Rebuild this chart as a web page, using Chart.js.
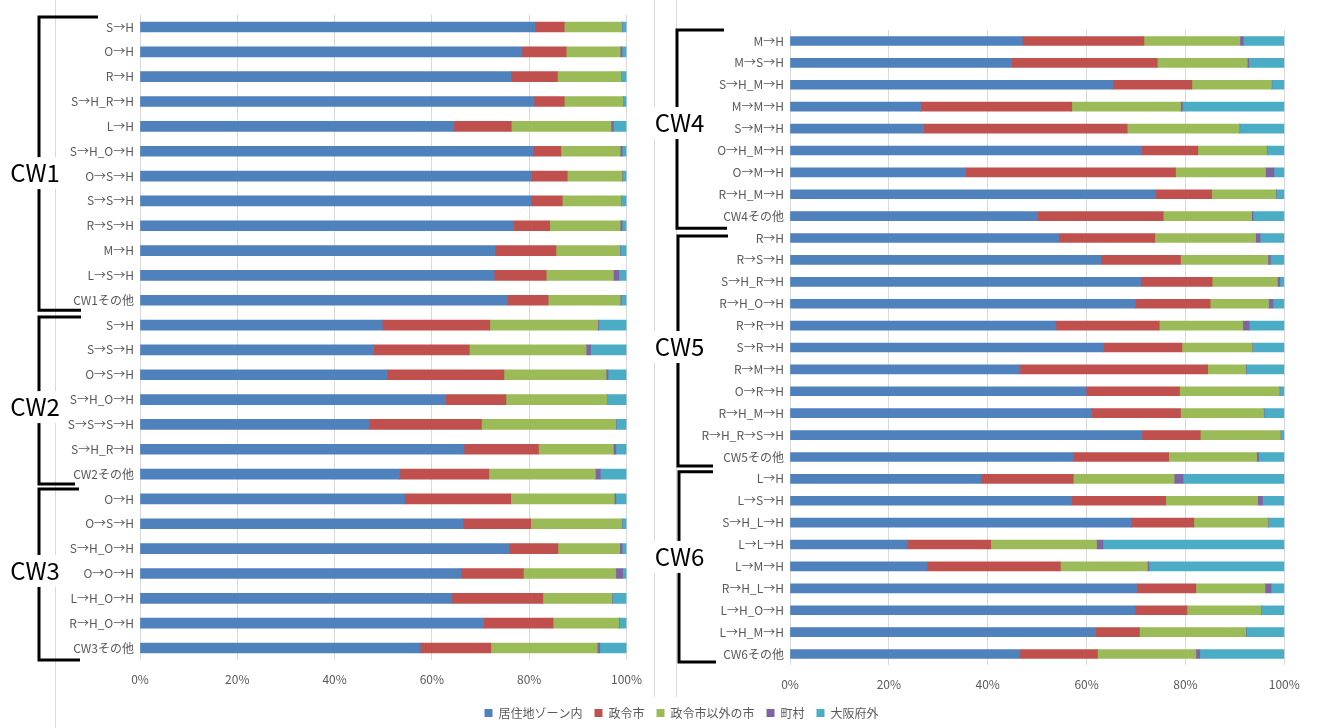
<!DOCTYPE html>
<html>
<head>
<meta charset="utf-8">
<script src="https://cdn.jsdelivr.net/npm/chart.js@4.4.1/dist/chart.umd.min.js"></script>
<style>
  body { margin: 0; background: #fff; width: 1318px; height: 728px; position: relative; overflow: hidden; }
  canvas { position: absolute; }
  #left { left: 0; top: 0; }
  #right { left: 650px; top: 0; }
  #legend { left: 45px; top: 695px; }
</style>
</head>
<body>
<canvas id="left" width="660" height="728"></canvas>
<canvas id="right" width="668" height="728"></canvas>
<canvas id="legend" width="1273" height="60"></canvas>
<script>
// series
const seriesNames = ["居住地ゾーン内", "政令市", "政令市以外の市", "町村", "大阪府外"];
const seriesColors = ["#4F81BD", "#C0504D", "#9BBB59", "#8064A2", "#4BACC6"];
const percentTicks = [0, 20, 40, 60, 80, 100];

// left panel (CW1-CW3)
const leftGroups = ["CW1", "CW2", "CW3"];
const leftGroupSizes = [12, 7, 7];
const leftLabels = [
  "S→H", "O→H", "R→H", "S→H_R→H", "L→H", "S→H_O→H", "O→S→H", "S→S→H", "R→S→H", "M→H", "L→S→H", "CW1その他",
  "S→H", "S→S→H", "O→S→H", "S→H_O→H", "S→S→S→H", "S→H_R→H", "CW2その他",
  "O→H", "O→S→H", "S→H_O→H", "O→O→H", "L→H_O→H", "R→H_O→H", "CW3その他"
];
const leftZone   = [81.2, 78.5, 76.3, 81.0, 64.5, 80.8, 80.4, 80.4, 76.8, 73.0, 72.8, 75.5, 49.8, 48.0, 50.8, 62.8, 47.1, 66.6, 53.4, 54.4, 66.4, 75.8, 66.0, 64.1, 70.6, 57.6];
const leftSeirei = [6.0, 9.1, 9.5, 6.2, 11.8, 5.7, 7.4, 6.4, 7.4, 12.5, 10.7, 8.4, 22.1, 19.7, 24.0, 12.4, 23.1, 15.3, 18.3, 21.8, 13.9, 10.1, 12.8, 18.7, 14.3, 14.5];
const leftCity   = [11.8, 11.1, 13.1, 12.1, 20.5, 12.2, 11.3, 12.1, 14.5, 13.1, 13.8, 14.8, 22.2, 24.0, 21.0, 20.8, 27.6, 15.4, 21.9, 21.3, 18.7, 12.7, 19.0, 14.2, 13.5, 21.9];
const leftTown   = [0.1, 0.4, 0.1, 0.1, 0.5, 0.4, 0.1, 0.1, 0.4, 0.1, 1.1, 0.2, 0.2, 0.9, 0.4, 0.1, 0.1, 0.5, 1.0, 0.3, 0.1, 0.5, 1.4, 0.1, 0.1, 0.5];
const leftOut    = [0.9, 0.9, 1.0, 0.6, 2.7, 0.9, 0.8, 1.0, 0.9, 1.3, 1.6, 1.1, 5.7, 7.4, 3.8, 3.9, 2.1, 2.2, 5.4, 2.2, 0.9, 0.9, 0.8, 2.9, 1.5, 5.5];

// right panel (CW4-CW6)
const rightGroups = ["CW4", "CW5", "CW6"];
const rightGroupSizes = [9, 11, 9];
const rightLabels = [
  "M→H", "M→S→H", "S→H_M→H", "M→M→H", "S→M→H", "O→H_M→H", "O→M→H", "R→H_M→H", "CW4その他",
  "R→H", "R→S→H", "S→H_R→H", "R→H_O→H", "R→R→H", "S→R→H", "R→M→H", "O→R→H", "R→H_M→H", "R→H_R→S→H", "CW5その他",
  "L→H", "L→S→H", "S→H_L→H", "L→L→H", "L→M→H", "R→H_L→H", "L→H_O→H", "L→H_M→H", "CW6その他"
];
const rightZone   = [47.0, 44.8, 65.3, 26.4, 27.0, 71.1, 35.5, 73.9, 50.1, 54.4, 62.9, 71.0, 69.8, 53.8, 63.4, 46.5, 59.9, 61.0, 71.2, 57.3, 38.6, 57.0, 69.0, 23.7, 27.7, 70.1, 69.8, 61.8, 46.5];
const rightSeirei = [24.6, 29.5, 16.0, 30.6, 41.2, 11.4, 42.5, 11.4, 25.4, 19.4, 16.1, 14.4, 15.2, 20.9, 15.9, 38.0, 18.9, 18.0, 11.8, 19.3, 18.7, 19.0, 12.7, 16.9, 27.0, 12.0, 10.5, 8.9, 15.7];
const rightCity   = [19.4, 18.2, 16.1, 22.0, 22.7, 13.9, 18.2, 13.0, 17.9, 20.4, 17.7, 13.2, 11.8, 16.9, 14.2, 7.7, 20.2, 16.8, 16.2, 17.8, 20.4, 18.6, 15.0, 21.4, 17.6, 14.0, 15.0, 21.5, 19.9];
const rightTown   = [0.7, 0.3, 0.1, 0.4, 0.1, 0.1, 1.7, 0.1, 0.3, 0.9, 0.5, 0.5, 0.9, 1.3, 0.1, 0.1, 0.1, 0.1, 0.1, 0.4, 1.8, 1.0, 0.1, 1.3, 0.3, 1.2, 0.1, 0.1, 0.8];
const rightOut    = [8.3, 7.2, 2.5, 20.6, 9.0, 3.5, 2.1, 1.6, 6.3, 4.9, 2.8, 0.9, 2.3, 7.1, 6.4, 7.7, 0.9, 4.1, 0.7, 5.2, 20.5, 4.4, 3.2, 36.7, 27.4, 2.7, 4.6, 7.7, 17.1];

Chart.defaults.font.family = '"Noto Sans CJK JP", "Noto Sans", sans-serif';
Chart.defaults.font.size = 12;
Chart.defaults.color = "#595959";

// brackets + group names drawn beside the category axis
const bracketPlugin = {
  id: "brackets",
  afterDraw(chart, args, opts) {
    const ctx = chart.ctx;
    const yScale = chart.scales.y;
    ctx.save();
    ctx.strokeStyle = "#d9d9d9";
    ctx.lineWidth = 1;
    opts.frames.forEach(f => {
      ctx.beginPath();
      ctx.moveTo(f.x, f.y0);
      ctx.lineTo(f.x, f.y1);
      ctx.stroke();
    });
    let first = 0;
    opts.names.forEach((name, i) => {
      const last = first + opts.sizes[i] - 1;
      const s = opts.shapes[i];
      const top = yScale.getPixelForValue(first) + s.top;
      const bottom = yScale.getPixelForValue(last) + s.bottom;
      ctx.strokeStyle = "#000";
      ctx.lineWidth = 3;
      ctx.beginPath();
      ctx.moveTo(s.x + s.topLen, top);
      ctx.lineTo(s.x, top);
      ctx.lineTo(s.x, bottom);
      ctx.lineTo(s.x + s.bottomLen, bottom);
      ctx.stroke();

      const ly = (top + bottom) / 2 + s.labelDy;
      ctx.font = '24px "Noto Sans CJK JP", "Noto Sans", sans-serif';
      const w = ctx.measureText(name).width;
      ctx.fillStyle = "#fff";
      ctx.fillRect(s.labelX - w / 2 - 2, ly - 16, w + 4, 32);
      ctx.fillStyle = "#000";
      ctx.textAlign = "center";
      ctx.textBaseline = "middle";
      ctx.fillText(name, s.labelX, ly);
      first = last + 1;
    });
    ctx.restore();
  }
};

function makeDatasets(values, thickness) {
  return values.map((v, i) => ({
    label: seriesNames[i],
    data: v,
    backgroundColor: seriesColors[i],
    borderWidth: 0,
    barThickness: thickness
  }));
}

function makePanel(canvasId, labels, values, thickness, padding, brackets) {
  return new Chart(document.getElementById(canvasId), {
    type: "bar",
    data: { labels: labels, datasets: makeDatasets(values, thickness) },
    plugins: [bracketPlugin],
    options: {
      indexAxis: "y",
      responsive: false,
      animation: false,
      devicePixelRatio: 1,
      layout: { padding: padding },
      scales: {
        x: {
          stacked: true,
          min: 0,
          max: 100,
          afterBuildTicks: scale => { scale.ticks = percentTicks.map(v => ({ value: v })); },
          afterFit: scale => { scale.height = 30; },
          grid: { color: "#d9d9d9", drawTicks: false },
          border: { display: false },
          ticks: { padding: 12, callback: v => v + "%" }
        },
        y: {
          stacked: true,
          afterFit: scale => { scale.width = 140; },
          grid: { display: false, drawTicks: false },
          border: { display: false },
          ticks: { padding: 6, autoSkip: false }
        }
      },
      plugins: {
        legend: { display: false },
        tooltip: { enabled: false },
        brackets: brackets
      }
    }
  });
}

makePanel("left", leftLabels, [leftZone, leftSeirei, leftCity, leftTown, leftOut], 10,
  { left: 0, right: 33.5, top: 14.6, bottom: 37.6 },
  {
    names: leftGroups,
    sizes: leftGroupSizes,
    frames: [{ x: 55.5, y0: 0, y1: 728 }],
    shapes: [
      { x: 39, top: -10, bottom: 10, topLen: 59, bottomLen: 42, labelX: 35, labelDy: 9.5 },
      { x: 39, top: -8, bottom: 10, topLen: 42, bottomLen: 36, labelX: 35, labelDy: 6.5 },
      { x: 39, top: -10, bottom: 12, topLen: 40, bottomLen: 41, labelX: 35, labelDy: -3.5 }
    ]
  });

makePanel("right", rightLabels, [rightZone, rightSeirei, rightCity, rightTown, rightOut], 9,
  { left: 0, right: 33.7, top: 30.05, bottom: 33.05 },
  {
    names: rightGroups,
    sizes: rightGroupSizes,
    frames: [{ x: 4.5, y0: 0, y1: 697 }, { x: 26.5, y0: 0, y1: 697 }],
    shapes: [
      { x: 27, top: -11, bottom: 12, topLen: 47, bottomLen: 50, labelX: 29.5, labelDy: -6 },
      { x: 28, top: -2, bottom: 9, topLen: 50, bottomLen: 35, labelX: 29.5, labelDy: -4 },
      { x: 29, top: -7, bottom: 8, topLen: 34, bottomLen: 37, labelX: 29.5, labelDy: -10 }
    ]
  });

// shared legend under both panels
new Chart(document.getElementById("legend"), {
  type: "bar",
  data: {
    labels: [],
    datasets: seriesNames.map((n, i) => ({ label: n, data: [], backgroundColor: seriesColors[i] }))
  },
  options: {
    responsive: false,
    animation: false,
    devicePixelRatio: 1,
    scales: { x: { display: false }, y: { display: false } },
    plugins: {
      tooltip: { enabled: false },
      legend: {
        position: "top",
        labels: { boxWidth: 8, boxHeight: 8, padding: 12, color: "#595959", font: { size: 12 } }
      }
    }
  }
});
</script>
</body>
</html>
